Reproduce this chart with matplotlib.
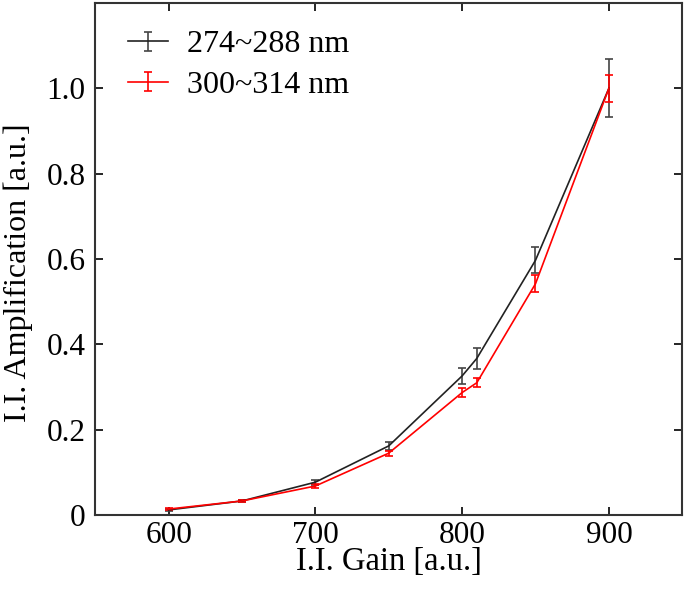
import matplotlib.pyplot as plt
from matplotlib.legend_handler import HandlerErrorbar

# I.I. gain settings and measured amplification (normalised)
gain = [600, 650, 700, 750, 800, 810, 850, 900]
amp_274 = [0.012, 0.033, 0.077, 0.162, 0.326, 0.367, 0.597, 1.0]
err_274 = [0.003, 0.003, 0.006, 0.010, 0.018, 0.024, 0.030, 0.068]
amp_300 = [0.014, 0.033, 0.068, 0.145, 0.287, 0.310, 0.542, 1.0]
err_300 = [0.003, 0.003, 0.004, 0.006, 0.010, 0.010, 0.020, 0.032]

plt.rcParams['font.family'] = ['Liberation Serif', 'DejaVu Serif']
plt.rcParams['font.size'] = 22.5

fig = plt.figure(figsize=(6.85, 5.92), dpi=100)
ax = fig.add_axes([0.139, 0.130, 0.857, 0.865])

ax.errorbar(gain, amp_274, yerr=err_274, color='#222222', ecolor='#444444',
            lw=1.2, elinewidth=1.2, capsize=3, capthick=1.2, label='274~288 nm')
ax.errorbar(gain, amp_300, yerr=err_300, color='red', ecolor='red',
            lw=1.2, elinewidth=1.2, capsize=3, capthick=1.2, label='300~314 nm')

ax.set_xlim(550, 950)
ax.set_ylim(0, 1.2)
ax.set_xticks([600, 700, 800, 900])
ax.set_yticks([0, 0.2, 0.4, 0.6, 0.8, 1.0])
ax.set_yticklabels(['0', '0.2', '0.4', '0.6', '0.8', '1.0'])
ax.tick_params(direction='in', top=True, right=True, length=6, width=1.2)
ax.tick_params(axis='y', pad=7)
ax.tick_params(axis='x', pad=4)
for s in ax.spines.values():
    s.set_linewidth(1.5)
    s.set_color('#333333')

ax.set_xlabel('I.I. Gain [a.u.]', fontsize=23.5, labelpad=-2)
ax.set_ylabel('I.I. Amplification [a.u.]', fontsize=23)
ax.yaxis.set_label_coords(-0.106, 0.473)
ax.legend(loc='upper left', bbox_to_anchor=(0.009, 1.0), frameon=False,
          fontsize=23, handlelength=1.25, borderaxespad=0.45,
          labelspacing=0.35, handletextpad=0.6,
          handler_map={type(ax.containers[0]): HandlerErrorbar(yerr_size=0.3)})

fig.savefig('out.png', dpi=100)
